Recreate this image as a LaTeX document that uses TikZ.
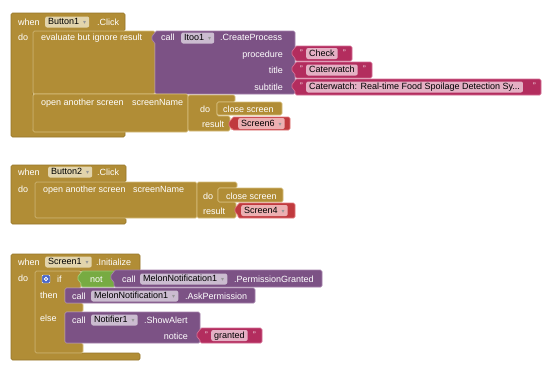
\documentclass[tikz,border=0pt]{standalone}
\usepackage{fontspec}
\setmainfont{Liberation Sans}
\newfontfamily\dvs{DejaVu Sans}
\definecolor{gold}{RGB}{177,141,54}
\definecolor{goldL}{RGB}{214,190,125}
\definecolor{goldD}{RGB}{150,118,40}
\definecolor{purp}{RGB}{124,82,133}
\definecolor{purpL}{RGB}{165,130,172}
\definecolor{mag}{RGB}{179,45,94}
\definecolor{magL}{RGB}{212,110,148}
\definecolor{scr}{RGB}{192,58,62}
\definecolor{scrL}{RGB}{225,120,122}
\definecolor{grn}{RGB}{119,171,66}
\definecolor{grnL}{RGB}{165,205,120}
\definecolor{fGold}{RGB}{226,212,172}
\definecolor{fPurp}{RGB}{203,188,208}
\definecolor{fMag}{RGB}{228,176,196}
\definecolor{fScr}{RGB}{236,176,178}
\definecolor{ddg}{RGB}{150,150,150}
\definecolor{gearb}{RGB}{70,100,200}
\newcommand\dd{\hspace{4pt}{\color{ddg}\dvs\fontsize{6}{6}\selectfont ▾}}
\newcommand\vb[6]{\path[blk,fill=#5,draw=#6] (#1,#2) -- (#3,#2) -- (#3,#4) -- (#1,#4) -- (#1,{#2+11}) -- ({#1-3},{#2+10}) -- ({#1-3},{#2+4}) -- (#1,{#2+3}) -- cycle;}
\begin{document}
\begin{tikzpicture}[x=1pt,y=-1pt,
 font=\fontsize{9}{10}\selectfont,
 blk/.style={line width=0.7pt, line join=round, rounded corners=1.5pt},
 lab/.style={anchor=base west, inner sep=0pt, text=white},
 rlab/.style={anchor=base east, inner sep=0pt, text=white},
 fld/.style={anchor=west, inner xsep=3pt, inner ysep=0pt, minimum height=11pt, text height=6.5pt, text depth=1.5pt, rounded corners=2pt, text=black, fill=#1},
 qt/.style={anchor=base west, inner sep=0pt, text=white, font=\fontsize{8}{8}\selectfont}]
\useasboundingbox[fill=white] (0,0) rectangle (544,375);

% ================= Block 1 =================
\path[blk,fill=gold,draw=goldD] (11,13) -- (125,13) -- (125,31) -- (33,31) -- (33,130) -- (125,130) -- (125,137) -- (11,137) -- cycle;
\path[blk,fill=gold,draw=goldL] (33,31) rectangle (155,94);
\vb{155}{31}{295}{94}{purp}{purpL}
\vb{295}{46}{352}{61}{mag}{magL}
\vb{295}{62}{372}{78}{mag}{magL}
\vb{295}{79}{541}{95}{mag}{magL}
\path[blk,fill=gold,draw=goldL] (33,94) rectangle (188,132);
\path[blk,fill=gold,draw=goldL] (188,95) -- (235,95) -- (235,102) -- (217,102) -- (217,116) -- (230,116) -- (230,131) -- (188,131) -- cycle;
\path[blk,fill=gold,draw=goldL] (217,102) rectangle (282,115);
\vb{232}{117}{290}{130}{scr}{scrL}

\node[lab] (w1) at (18,25) {when};
\node[fld=fGold] (b1) at (45,22) {Button1\dd};
\node[lab] (c1) at (97,25) {.Click};
\node[lab] (d1) at (18,40.5) {do};
\node[lab] (ev) at (41,40.5) {evaluate but ignore result};
\node[lab] (ca1) at (161,40.5) {call};
\node[fld=fPurp] (it) at (181,38) {Itoo1\dd};
\node[lab] (cp) at (220,40.5) {.CreateProcess};
\node[rlab] (pr) at (283,57) {procedure};
\node[rlab] (ti) at (283,73) {title};
\node[rlab] (st) at (283,90) {subtitle};
\node[qt] (q1a) at (300,55) {"};
\node[fld=fMag] (s1) at (306,53.5) {Check};
\node[qt] (q1b) at (343,55) {"};
\node[qt] (q2a) at (300,71) {"};
\node[fld=fMag] (s2) at (306,70) {Caterwatch};
\node[qt] (q2b) at (363,71) {"};
\node[qt] (q3a) at (300,88) {"};
\node[fld=fMag] (s3) at (306,87) {Caterwatch: Real-time Food Spoilage Detection Sy...};
\node[qt] (q3b) at (533,88) {"};
\node[lab] (os1) at (41,105) {open another screen};
\node[lab] (sn1) at (132,105) {screenName};
\node[lab] (do1) at (200,112.5) {do};
\node[lab] (cs1) at (223,112.5) {close screen};
\node[lab] (re1) at (202,127) {result};
\node[fld=fScr] (sc6) at (238,123.5) {Screen6\dd};

% ================= Block 2 =================
\path[blk,fill=gold,draw=goldD] (11,165) -- (126,165) -- (126,182) -- (35,182) -- (35,218) -- (126,218) -- (126,224) -- (11,224) -- cycle;
\path[blk,fill=gold,draw=goldL] (35,182) rectangle (197,218);
\path[blk,fill=gold,draw=goldL] (197,182) -- (237,182) -- (237,188) -- (218,188) -- (218,202) -- (236,202) -- (236,218) -- (197,218) -- cycle;
\path[blk,fill=gold,draw=goldL] (218,188) rectangle (283,202);
\vb{238}{203}{295}{218}{scr}{scrL}

\node[lab] (w2) at (18,175) {when};
\node[fld=fGold] (b2) at (48,172) {Button2\dd};
\node[lab] (c2) at (97,175) {.Click};
\node[lab] (d2) at (18,192) {do};
\node[lab] (os2) at (43,192.5) {open another screen};
\node[lab] (sn2) at (133,192.5) {screenName};
\node[lab] (do2) at (203,199) {do};
\node[lab] (cs2) at (226,199) {close screen};
\node[lab] (re2) at (203,214) {result};
\node[fld=fScr] (sc4) at (241,210.5) {Screen4\dd};

% ================= Block 3 =================
\path[blk,fill=gold,draw=goldD] (11,254) -- (140,254) -- (140,271) -- (35,271) -- (35,353) -- (140,353) -- (140,360) -- (11,360) -- cycle;
\path[blk,fill=gold,draw=goldL] (35,271) -- (81,271) -- (81,288) -- (65,288) -- (65,303) -- (83,303) -- (83,312) -- (65,312) -- (65,343) -- (83,343) -- (83,353) -- (35,353) -- cycle;
\vb{81}{271}{115}{287}{grn}{grnL}
\vb{114}{270}{322}{287}{purp}{purpL}
\path[blk,fill=purp,draw=purpL] (65,288) rectangle (255,303);
\path[blk,fill=purp,draw=purpL] (65,312) rectangle (200,343);
\vb{200}{328}{262}{343}{mag}{magL}

\node[lab] (w3) at (18,265) {when};
\node[fld=fGold] (b3) at (45,262) {Screen1\dd};
\node[lab] (c3) at (96,265) {.Initialize};
\node[lab] (d3) at (18,281) {do};
\node[draw=white, fill=gearb, rounded corners=1pt, minimum size=8pt, inner sep=0pt] (gear) at (46,279) {};
\node[circle, draw=white, line width=0.8pt, minimum size=3.5pt, inner sep=0pt] (gearc) at (gear.center) {};
\node[lab] (if3) at (57,282) {if};
\node[lab] (not3) at (90,282) {not};
\node[lab] (ca3) at (122,282) {call};
\node[fld=fPurp] (mn1) at (140,279) {MelonNotification1\dd};
\node[lab] (pg) at (234,282) {.PermissionGranted};
\node[lab] (th3) at (40,298) {then};
\node[lab] (ca4) at (72,299) {call};
\node[fld=fPurp] (mn2) at (91,296) {MelonNotification1\dd};
\node[lab] (ap) at (185,299) {.AskPermission};
\node[lab] (el3) at (40,321) {else};
\node[lab] (ca5) at (72,323) {call};
\node[fld=fPurp] (nt) at (91,320) {Notifier1\dd};
\node[lab] (sa) at (144,323) {.ShowAlert};
\node[rlab] (no) at (188,339) {notice};
\node[qt] (q4a) at (205,337) {"};
\node[fld=fMag] (gr) at (211,335.5) {granted};
\node[qt] (q4b) at (253,337) {"};
\end{tikzpicture}
\end{document}
